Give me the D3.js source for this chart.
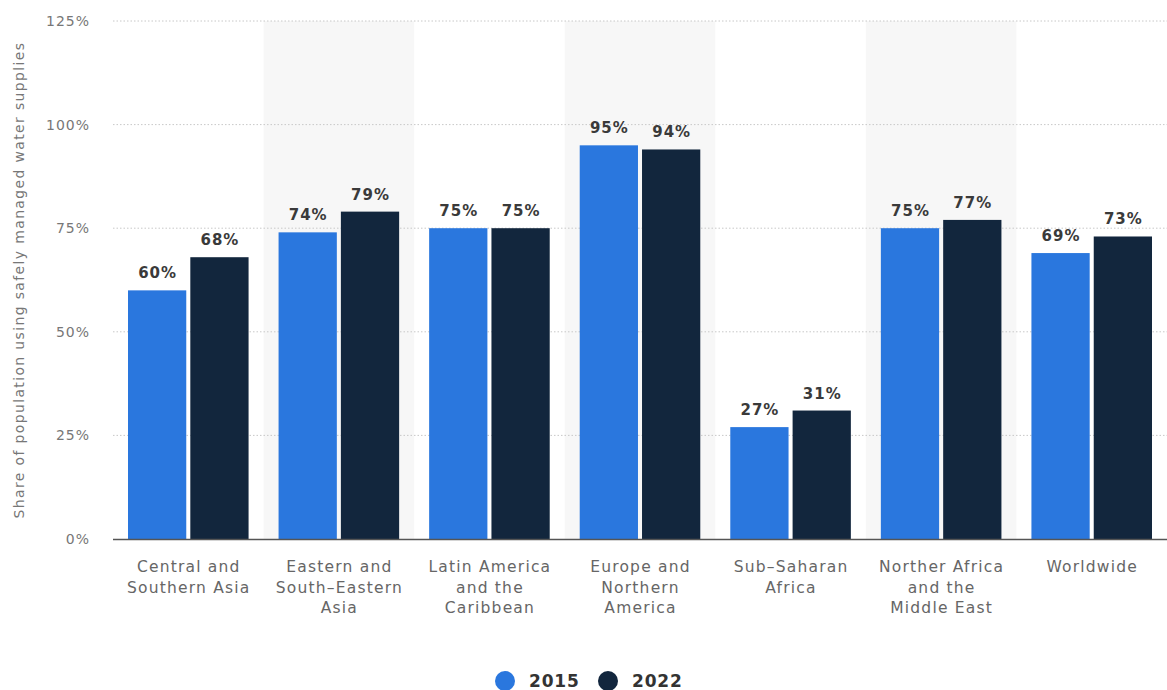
<!DOCTYPE html>
<html>
<head>
<meta charset="utf-8">
<script src="https://cdn.jsdelivr.net/npm/d3@7"></script>
<style>
  html, body { margin: 0; padding: 0; background: #fff; }
  svg { display: block; }
</style>
</head>
<body>
<svg id="chart" width="1167" height="690"></svg>
<script>
// Share of population using safely managed drinking water, by region
const categories = [
  ["Central and", "Southern Asia"],
  ["Eastern and", "South\u2013Eastern", "Asia"],
  ["Latin America", "and the", "Caribbean"],
  ["Europe and", "Northern", "America"],
  ["Sub\u2013Saharan", "Africa"],
  ["Norther Africa", "and the", "Middle East"],
  ["Worldwide"]
];
const series = ["2015", "2022"];
const values2015 = [60, 74, 75, 95, 27, 75, 69];
const values2022 = [68, 79, 75, 94, 31, 77, 73];
const yTicks = [0, 25, 50, 75, 100, 125];
const colors = ["#2a77de", "#12263d"];
const yTitle = "Share of population using safely managed water supplies";

const svg = d3.select("#chart");
const margin = { left: 113, right: 0, top: 21, bottom: 151 };
const W = 1167, H = 690;
const innerW = W - margin.left - margin.right;
const innerH = H - margin.top - margin.bottom;
const FONT = "'DejaVu Sans', Verdana, sans-serif";

const g = svg.append("g").attr("transform", `translate(${margin.left},${margin.top})`);

const x0 = d3.scaleBand().domain(d3.range(categories.length)).range([0, innerW]);
const x1 = d3.scaleBand().domain(series).range([15, x0.bandwidth() - 15]).paddingInner(0.065);
const y = d3.scaleLinear().domain([0, 125]).range([innerH, 0]);

// alternating column shading
g.selectAll("rect.band")
  .data(d3.range(categories.length).filter(i => i % 2 === 1))
  .join("rect")
  .attr("x", i => x0(i)).attr("y", 0)
  .attr("width", x0.bandwidth()).attr("height", innerH)
  .attr("fill", "#f7f7f7");

// dotted gridlines
g.selectAll("line.grid")
  .data(yTicks.filter(t => t > 0))
  .join("line")
  .attr("x1", 0).attr("x2", innerW)
  .attr("y1", d => y(d)).attr("y2", d => y(d))
  .attr("stroke", "#c8c8c8").attr("stroke-width", 1)
  .attr("stroke-dasharray", "1.5,2");

// y axis tick labels
const yAxis = d3.axisLeft(y).tickValues(yTicks).tickSize(0).tickPadding(23).tickFormat(d => d + "%");
g.append("g").call(yAxis)
  .call(a => a.select(".domain").remove())
  .selectAll("text")
  .attr("font-family", FONT)
  .attr("font-size", 14)
  .attr("letter-spacing", 1)
  .attr("fill", "#777");

// bars
const data = categories.map((c, i) => ({ i, vals: [values2015[i], values2022[i]] }));
const groups = g.selectAll("g.grp").data(data).join("g")
  .attr("transform", d => `translate(${x0(d.i)},0)`);

groups.selectAll("rect.bar")
  .data(d => d.vals.map((v, k) => ({ v, k })))
  .join("rect")
  .attr("x", d => x1(series[d.k]))
  .attr("width", x1.bandwidth())
  .attr("y", d => y(d.v))
  .attr("height", d => innerH - y(d.v))
  .attr("fill", d => colors[d.k]);

groups.selectAll("text.val")
  .data(d => d.vals.map((v, k) => ({ v, k })))
  .join("text")
  .attr("x", d => x1(series[d.k]) + x1.bandwidth() / 2 + 0.5)
  .attr("y", d => y(d.v) - 12)
  .attr("text-anchor", "middle")
  .attr("font-family", FONT)
  .attr("font-weight", "bold")
  .attr("font-size", 15)
  .attr("letter-spacing", 1)
  .attr("fill", "#3a3a3a")
  .text(d => d.v + "%");

// baseline
g.append("line")
  .attr("x1", 0).attr("x2", innerW)
  .attr("y1", innerH + 0.5).attr("y2", innerH + 0.5)
  .attr("stroke", "#555").attr("stroke-width", 1.5);

// category labels
const xAxis = g.append("g").attr("transform", `translate(0,${innerH})`);
categories.forEach((lines, i) => {
  const cx = x0(i) + x0.bandwidth() / 2 + 0.5;
  const t = xAxis.append("text")
    .attr("x", cx)
    .attr("y", 33)
    .attr("text-anchor", "middle")
    .attr("font-family", FONT)
    .attr("font-size", 15.5)
    .attr("letter-spacing", 1.2)
    .attr("fill", "#666");
  lines.forEach((ln, j) => {
    t.append("tspan").attr("x", cx).attr("dy", j === 0 ? 0 : 20.5).text(ln);
  });
});

// y axis title
svg.append("text")
  .attr("transform", `translate(24,280) rotate(-90)`)
  .attr("text-anchor", "middle")
  .attr("font-family", FONT)
  .attr("font-size", 14)
  .attr("letter-spacing", 1.35)
  .attr("fill", "#777")
  .text(yTitle);

// legend
const legend = svg.append("g").attr("transform", "translate(0,681)");
const legX = [505, 608];
series.forEach((s, k) => {
  legend.append("circle").attr("cx", legX[k]).attr("cy", 0).attr("r", 10).attr("fill", colors[k]);
  legend.append("text")
    .attr("x", legX[k] + 24).attr("y", 0).attr("dy", "0.36em")
    .attr("font-family", FONT)
    .attr("font-weight", "bold")
    .attr("font-size", 17)
    .attr("letter-spacing", 0.8)
    .attr("fill", "#333")
    .text(s);
});
</script>
</body>
</html>
